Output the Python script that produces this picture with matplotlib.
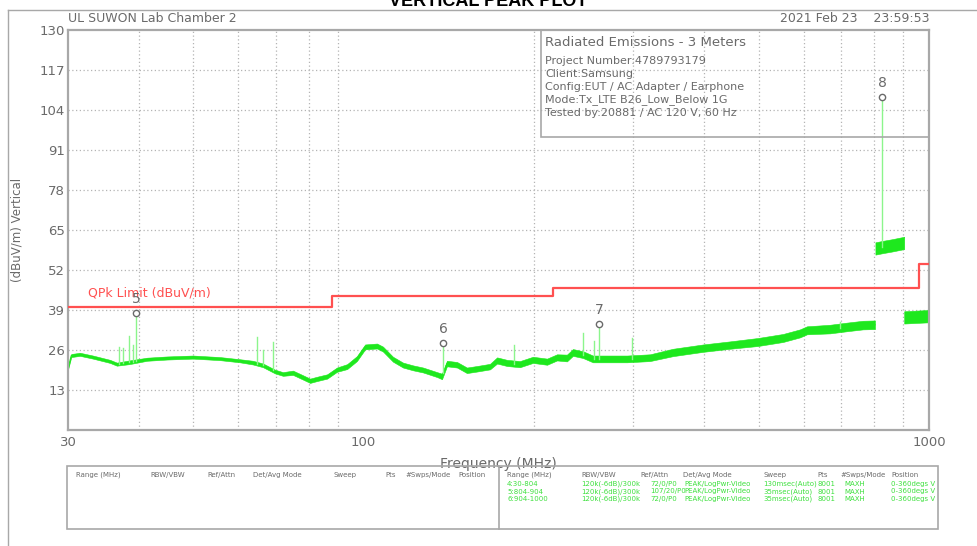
import matplotlib
matplotlib.use("Agg")
import matplotlib.pyplot as plt
import matplotlib.patches as mp
import numpy as np


W, H = 977, 546
GREY = "#6a6a6a"
FRAME = "#a8a8a8"
TRACE = "#1ee81e"
SPIKE = "#8cf58c"
LIMIT = "#ff5050"

# swept trace, range 4 (30 - 804 MHz): centre level and half band width
trace_freq = [30.0, 30.4, 31.5, 33.2, 35.6, 36.6, 38.5, 41.4, 44.9, 49.9,
              55.7, 60.4, 63.7, 66.4, 69.7, 72.0, 75.0, 78.1, 80.4, 82.7,
              86.2, 89.7, 93.5, 97.3, 100.6, 105.6, 108.2, 112.7, 117.4, 122.3,
              127.4, 134.9, 137.6, 140.4, 146.3, 152.3, 158.7, 167.3, 172.2, 179.3,
              189.0, 199.3, 211.1, 219.8, 228.9, 234.5, 244.3, 254.4, 269.4, 292.3,
              321.0, 352.5, 398.4, 444.6, 498.3, 551.7, 591.3, 608.4, 668.1, 716.1,
              764.1, 802.5]
trace_db = [20.0, 24.2, 24.6, 23.7, 22.3, 21.4, 22.0, 23.0, 23.4, 23.7,
            23.2, 22.5, 21.9, 21.0, 19.0, 18.2, 18.6, 17.1, 16.0, 16.6,
            17.4, 19.6, 20.6, 23.2, 27.0, 27.3, 26.3, 23.0, 21.1, 20.2,
            19.5, 18.0, 17.4, 21.6, 21.2, 19.4, 19.9, 20.6, 22.6, 21.8,
            21.4, 22.8, 22.2, 23.6, 23.4, 25.2, 24.5, 23.1, 23.1, 23.1,
            23.5, 25.2, 26.6, 27.6, 28.6, 29.9, 31.4, 32.4, 32.8, 33.5,
            34.1, 34.2]
trace_spread = [0.4, 0.5, 0.5, 0.5, 0.5, 0.5, 0.6, 0.5, 0.5, 0.5,
                0.5, 0.5, 0.6, 0.6, 0.6, 0.6, 0.7, 0.7, 0.7, 0.7,
                0.7, 0.7, 0.8, 0.8, 0.8, 0.8, 0.8, 0.8, 0.8, 0.8,
                0.8, 0.8, 0.9, 0.9, 0.9, 0.9, 0.9, 0.9, 1.0, 1.0,
                1.0, 1.0, 1.0, 1.0, 1.1, 1.1, 1.1, 1.1, 1.1, 1.1,
                1.1, 1.2, 1.2, 1.2, 1.3, 1.3, 1.3, 1.3, 1.4, 1.4,
                1.4, 1.4]

# range 5 (804 - 904 MHz) and range 6 (904 - 1000 MHz)
band5_freq = [804, 830, 860, 904]
band5_db = [59.0, 59.5, 60.0, 60.8]
band6_freq = [904, 950, 1000]
band6_db = [36.6, 36.8, 37.0]
band_spread = 2.0

# narrow spikes above the noise floor
spike_freq = [36.9, 37.5, 38.5, 39.1, 39.6, 64.8, 66.4, 69.1, 138.4, 184.5,
              244.3, 256.0, 260.8, 298.3, 696.0, 826.0]
spike_db = [27.0, 26.5, 30.5, 27.5, 38.0, 30.3, 26.0, 28.5, 28.3, 27.6,
            31.5, 29.0, 34.4, 29.9, 35.0, 108.2]

marker_id = ["5", "6", "7", "8"]
marker_freq = [39.6, 138.4, 260.8, 826.0]
marker_db = [38.0, 28.3, 34.4, 108.2]

# FCC class B QPk limit
limit_edges = [30, 88, 216, 960, 1000]
limit_db = [40.0, 43.5, 46.0, 54.0, 54.0]

y_ticks = [13, 26, 39, 52, 65, 78, 91, 104, 117, 130]
x_grid = [40, 50, 60, 70, 80, 90, 200, 300, 400, 500, 600, 700, 800, 900]
x_labels = [30, 100, 1000]

info_lines = ["Project Number:4789793179",
              "Client:Samsung",
              "Config:EUT / AC Adapter / Earphone",
              "Mode:Tx_LTE B26_Low_Below 1G",
              "Tested by:20881 / AC 120 V, 60 Hz"]

table_head = ["Range (MHz)", "RBW/VBW", "Ref/Attn", "Det/Avg Mode",
              "Sweep", "Pts", "#Swps/Mode", "Position"]
table_rows = [
    ["4:30-804", "120k(-6dB)/300k", "72/0/P0", "PEAK/LogPwr-Video",
     "130msec(Auto)", "8001", "MAXH", "0-360degs V"],
    ["5:804-904", "120k(-6dB)/300k", "107/20/P0", "PEAK/LogPwr-Video",
     "35msec(Auto)", "8001", "MAXH", "0-360degs V"],
    ["6:904-1000", "120k(-6dB)/300k", "72/0/P0", "PEAK/LogPwr-Video",
     "35msec(Auto)", "8001", "MAXH", "0-360degs V"],
]


def px(x, y):
    return x / W, 1 - y / H


def ftext(x, y, s, **kw):
    kw.setdefault("color", GREY)
    kw.setdefault("va", "center")
    fig.text(*px(x, y), s, **kw)


fig = plt.figure(figsize=(W / 100, H / 100), dpi=100)
ax = fig.add_axes([68 / W, (H - 430) / H, (929 - 68) / W, 400 / H])

# outer frame (partial, as on the scan)
fig.add_artist(plt.Line2D([8 / W, 1], [1 - 10 / H] * 2, color=FRAME, lw=1))
fig.add_artist(plt.Line2D([8 / W] * 2, [0, 1 - 10 / H], color=FRAME, lw=1))

ax.set_xscale("log")
ax.set_xlim(30, 1000)
ax.set_ylim(0, 130)

for f in x_grid:
    ax.axvline(f, color="#b4b4b4", ls=(0, (1, 2)), lw=0.9, zorder=0)
for y in y_ticks[:-1]:
    ax.axhline(y, color="#b4b4b4", ls=(0, (1, 2)), lw=0.9, zorder=0)

# trace
tf = np.array(trace_freq)
td = np.array(trace_db)
ts = np.array(trace_spread)
ax.fill_between(tf, td - ts, td + ts, color=TRACE, lw=0.4, zorder=2)
ax.plot(tf, td, color=TRACE, lw=0.8, zorder=2)
for fr, lv in ((band5_freq, band5_db), (band6_freq, band6_db)):
    lv = np.array(lv)
    ax.fill_between(fr, lv - band_spread, lv + band_spread, color=TRACE,
                    lw=0.4, zorder=2)

all_f = list(trace_freq) + band5_freq
all_d = list(trace_db) + band5_db
for f, top in zip(spike_freq, spike_db):
    base = np.interp(f, all_f, all_d)
    ax.plot([f, f], [base, top], color=SPIKE, lw=1.0, zorder=2)

# limit
ax.step(limit_edges, limit_db, where="post", color=LIMIT, lw=1.6, zorder=3)
ax.text(32.5, 44.5, "QPk Limit (dBuV/m)", color=LIMIT, fontsize=9,
        va="center")

# markers
ax.plot(marker_freq, marker_db, ls="none", marker="o", ms=4.5, mfc="white",
        mec=GREY, mew=1, zorder=4)
for m, f, d in zip(marker_id, marker_freq, marker_db):
    ax.annotate(m, (f, d), xytext=(0, 5), textcoords="offset points",
                ha="center", va="bottom", color=GREY, fontsize=10, zorder=4)

# axes cosmetics
for s in ax.spines.values():
    s.set_color(FRAME)
    s.set_linewidth(1.6)
ax.set_yticks(y_ticks)
ax.set_yticklabels([str(v) for v in y_ticks])
ax.set_xticks(x_labels)
ax.set_xticklabels([str(v) for v in x_labels])
ax.xaxis.set_minor_locator(matplotlib.ticker.NullLocator())
ax.tick_params(length=0, labelsize=9.5, labelcolor=GREY, pad=4)
ax.tick_params(axis="y", pad=2)
ax.set_xlabel("Frequency (MHz)", color=GREY, fontsize=10, labelpad=6)
ax.set_ylabel("(dBuV/m) Vertical", color=GREY, fontsize=8.5, labelpad=12)

# header texts
ftext(488, 2, "VERTICAL PEAK PLOT", ha="center", fontsize=13,
      fontweight="bold", color="black", family="Liberation Sans")
ftext(68, 19, "UL SUWON Lab Chamber 2", fontsize=9)
ftext(929, 19, "2021 Feb 23    23:59:53", ha="right", fontsize=9)

# info box
fig.add_artist(mp.Rectangle(px(541, 137), (929 - 541) / W, 107 / H,
                            fill=False, ec=FRAME, lw=1.2,
                            transform=fig.transFigure))
ftext(545, 42, "Radiated Emissions - 3 Meters", fontsize=9.5)
for i, line in enumerate(info_lines):
    ftext(545, 61 + 13 * i, line, fontsize=8)

# setup table
fig.add_artist(mp.Rectangle(px(67, 529), (938 - 67) / W, 63 / H,
                            fill=False, ec=FRAME, lw=1.2,
                            transform=fig.transFigure))
fig.add_artist(plt.Line2D([499 / W] * 2, [1 - 466 / H, 1 - 529 / H],
                          color=FRAME, lw=1.2))
left_cols = [76, 150, 207, 253, 334, 385, 405, 458]
right_cols = [507, 581, 640, 683, 764, 817, 840, 891]
data_cols = [507, 581, 650, 684, 763, 817, 844, 891]
for c, h in zip(left_cols, table_head):
    ftext(c, 475, h, fontsize=5)
for c, h in zip(right_cols, table_head):
    ftext(c, 475, h, fontsize=5)
for r, row in enumerate(table_rows):
    for c, cell in zip(data_cols, row):
        ftext(c, 484 + 7.5 * r, cell, fontsize=5, color="#3ee03e")

fig.savefig("out.png", dpi=100)
